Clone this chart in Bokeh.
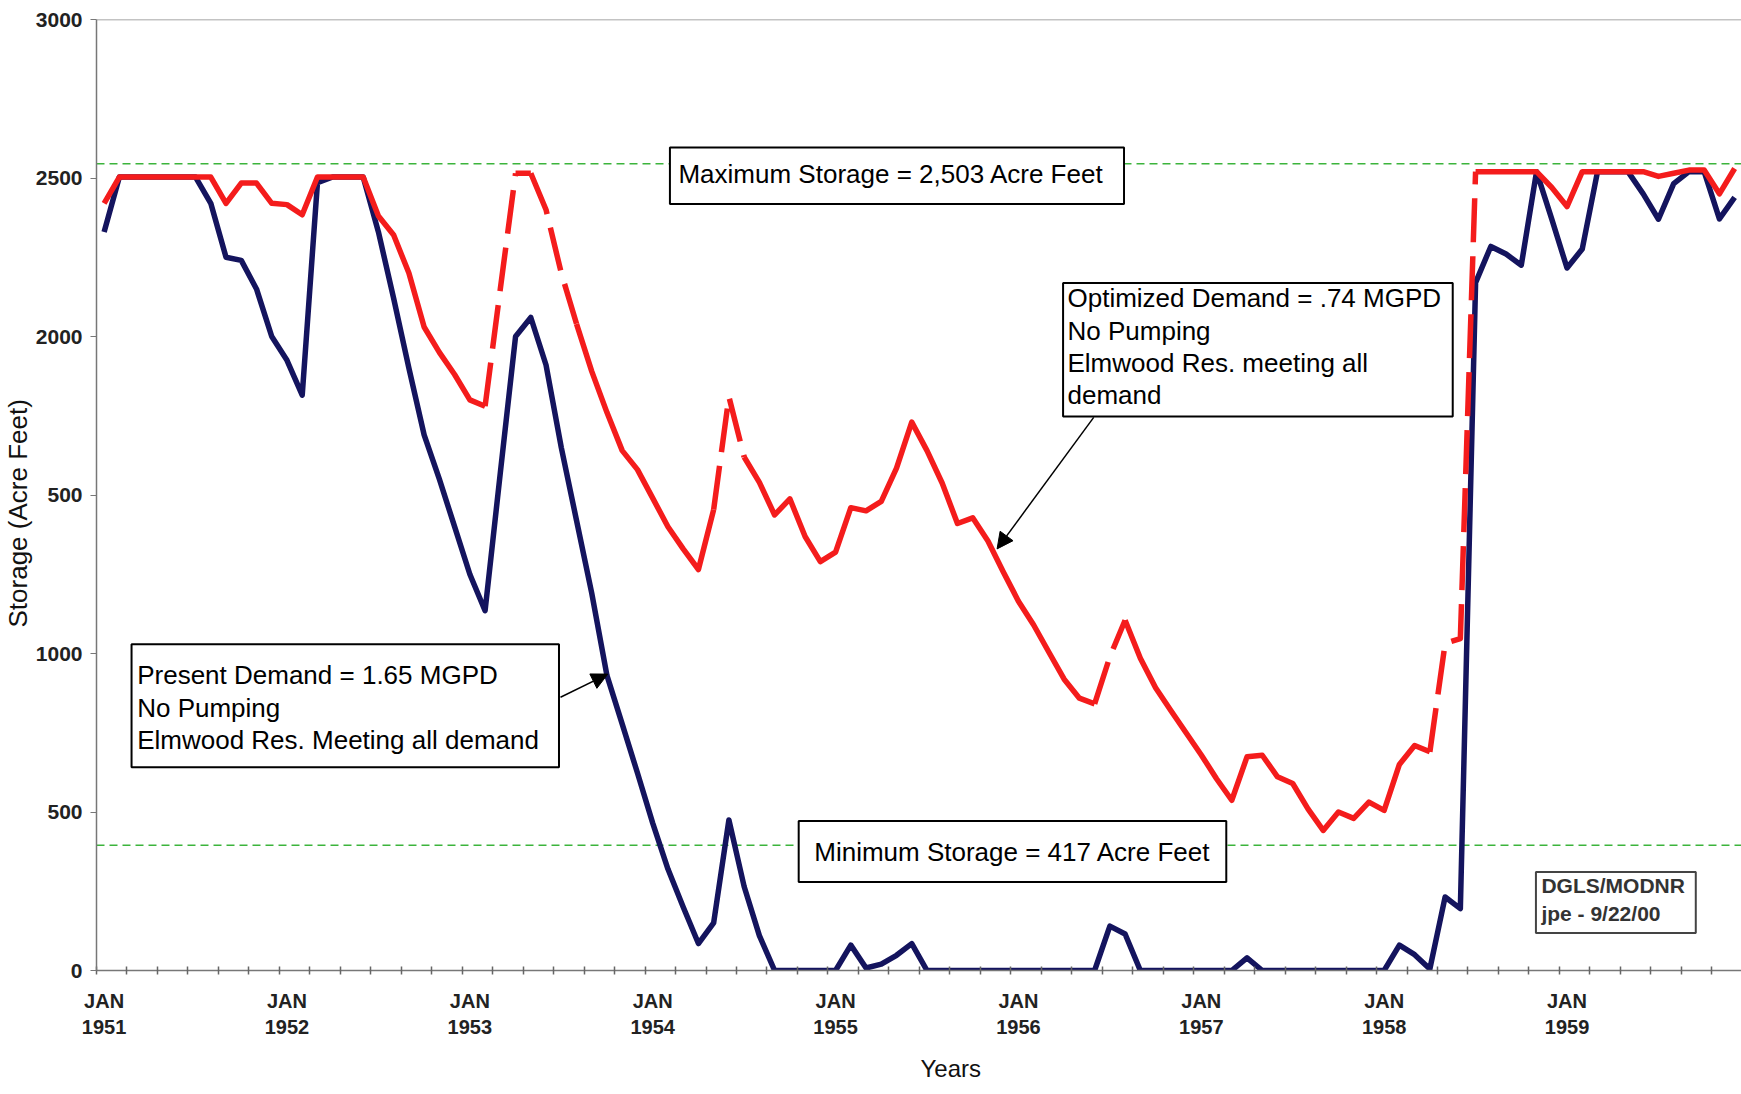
from bokeh.plotting import figure
from bokeh.models import (Range1d, FixedTicker, Span, BoxAnnotation, Label, Arrow, NormalHead,
                          Title)
from bokeh.embed import file_html
from bokeh.resources import INLINE

# ---- data (monthly, Jan 1951 .. Dec 1959) ----
months = list(range(108))

present_demand = [
    2330, 2503, 2503, 2503, 2503, 2503, 2503, 2420, 2250, 2240,
    2150, 2000, 1925, 1815, 2485, 2503, 2503, 2503, 2330, 2120,
    1900, 1690, 1550, 1400, 1250, 1135, 1570, 2000, 2060, 1910,
    1650, 1420, 1190, 930, 777, 623, 465, 320, 200, 85,
    150, 475, 265, 110, 0, 0, 0, 0, 0, 80,
    8, 20, 48, 85, 0, 0, 0, 0, 0, 0,
    0, 0, 0, 0, 0, 0, 140, 115, 0, 0,
    0, 0, 0, 0, 0, 40, 0, 0, 0, 0,
    0, 0, 0, 0, 0, 80, 50, 5, 232, 195,
    2170, 2284, 2260, 2225, 2520, 2370, 2216, 2276, 2520, 2520,
    2520, 2450, 2370, 2482, 2520, 2520, 2371, 2439,
]

optimized_demand = [
    2420, 2503, 2503, 2503, 2503, 2503, 2503, 2503, 2420, 2484,
    2484, 2420, 2416, 2384, 2503, 2503, 2503, 2503, 2380, 2320,
    2200, 2030, 1950, 1880, 1800, 1780, 2150, 2515, 2515, 2400,
    2200, 2040, 1890, 1760, 1640, 1580, 1490, 1400, 1330, 1265,
    1454, 1810, 1620, 1540, 1437, 1488, 1369, 1290, 1320, 1460,
    1450, 1480, 1585, 1730, 1640, 1537, 1410, 1428, 1355, 1258,
    1165, 1090, 1004, 919, 859, 841, 990, 1105, 985, 892,
    820, 750, 680, 605, 537, 674, 679, 611, 590, 510,
    442, 500, 480, 531, 505, 650, 710, 690, 1032, 1047,
    2520, 2520, 2520, 2520, 2520, 2470, 2410, 2520, 2520, 2520,
    2520, 2520, 2505, 2515, 2525, 2525, 2450, 2530,
]

# stretches of the red line that appear broken (dashed) in the scan
red_dashed_ranges = [(25, 27), (28, 31), (40, 42), (65, 67), (87, 90)]

max_storage_line = 2545
min_storage_line = 395

year_ticks = [0, 12, 24, 36, 48, 60, 72, 84, 96]
year_labels = ["JAN\n1951", "JAN\n1952", "JAN\n1953", "JAN\n1954", "JAN\n1955",
               "JAN\n1956", "JAN\n1957", "JAN\n1958", "JAN\n1959"]
minor_ticks = [-0.5 + 2 * k for k in range(55)]
y_ticks = [0, 500, 1000, 1500, 2000, 2500, 3000]
y_labels = ["0", "500", "1000", "500", "2000", "2500", "3000"]

FONT = "Liberation Sans"

p = figure(width=1741, height=1094,
           x_range=Range1d(-0.5, 107.45), y_range=Range1d(0, 3000),
           output_backend="svg", toolbar_location=None,
           min_border_left=94, min_border_right=0,
           min_border_top=19, min_border_bottom=124)
p.outline_line_color = None
p.xgrid.visible = False
p.ygrid.visible = False
p.background_fill_color = "white"
p.border_fill_color = "white"

# x axis
xa = p.xaxis[0]
xa.ticker = FixedTicker(ticks=year_ticks, minor_ticks=minor_ticks)
xa.major_label_overrides = dict(zip(year_ticks, year_labels))
xa.major_tick_line_color = None
xa.minor_tick_in = 4
xa.minor_tick_out = 4
xa.minor_tick_line_color = "#666666"
xa.minor_tick_line_width = 1.5
xa.axis_line_color = "#777777"
xa.axis_line_width = 1.5
xa.major_label_text_font = FONT
xa.major_label_text_font_style = "bold"
xa.major_label_text_font_size = "20px"
xa.major_label_text_color = "#222222"
xa.major_label_standoff = 13

# y axis
ya = p.yaxis[0]
ya.ticker = FixedTicker(ticks=y_ticks)
ya.major_label_overrides = dict(zip(y_ticks, y_labels))
ya.major_tick_in = 0
ya.major_tick_out = 6
ya.major_tick_line_color = "#777777"
ya.minor_tick_line_color = None
ya.axis_line_color = "#777777"
ya.axis_line_width = 1.5
ya.major_label_text_font = FONT
ya.major_label_text_font_style = "bold"
ya.major_label_text_font_size = "21px"
ya.major_label_text_color = "#222222"
ya.major_label_standoff = 8

# axis titles (slightly off-centre, as in the scan)
p.add_layout(Title(text="Years", align="left", offset=824, standoff=24,
                   text_font=FONT, text_font_size="24px", text_font_style="normal",
                   text_color="#111111"), "below")
p.add_layout(Title(text="Storage (Acre Feet)", align="left", offset=343, standoff=0,
                   text_font=FONT, text_font_size="26px", text_font_style="normal",
                   text_color="#111111"), "left")

# reference lines
p.add_layout(Span(location=3000, dimension="width", line_color="#888888", line_width=1.5))
p.add_layout(Span(location=max_storage_line, dimension="width", line_color="#3cb43c",
                  line_width=1.5, line_dash="8 5", level="underlay"))
p.add_layout(Span(location=min_storage_line, dimension="width", line_color="#3cb43c",
                  line_width=1.5, line_dash="8 5", level="underlay"))

# present demand (blue)
p.line(months, present_demand, line_color="#14145e", line_width=5.5, line_join="round")

# optimized demand (red): solid pieces + dashed pieces
RED = "#f41c1c"
cuts = [0]
for a, b in red_dashed_ranges:
    cuts += [a, b]
cuts.append(len(months) - 1)
for k in range(0, len(cuts) - 1, 2):
    a, b = cuts[k], cuts[k + 1]
    p.line(months[a:b + 1], optimized_demand[a:b + 1], line_color=RED, line_width=5.5,
           line_join="round")
for a, b in red_dashed_ranges:
    p.line(months[a:b + 1], optimized_demand[a:b + 1], line_color=RED, line_width=5.5,
           line_dash="44 14", line_join="round")

# annotation boxes
def box(l, r, t, b, color="black", w=2):
    p.add_layout(BoxAnnotation(left=l, right=r, top=t, bottom=b, fill_color="white",
                               fill_alpha=1.0, line_color=color, line_alpha=1.0,
                               line_width=w))

def label(x, y, text, size="26px", style="normal", color="black"):
    p.add_layout(Label(x=x, y=y, text=text, text_font=FONT, text_font_size=size,
                       text_font_style=style, text_color=color,
                       text_baseline="middle", text_align="left"))

box(37.13, 66.93, 2596, 2418)
label(37.69, 2512, "Maximum Storage = 2,503 Acre Feet")

box(62.93, 88.50, 2169, 1748)
label(63.22, 2120, "Optimized Demand = .74 MGPD")
label(63.22, 2018, "No Pumping")
label(63.22, 1916, "Elmwood Res. meeting all")
label(63.22, 1815, "demand")

box(1.80, 29.85, 1029, 641)
label(2.17, 931, "Present Demand = 1.65 MGPD")
label(2.17, 829, "No Pumping")
label(2.17, 728, "Elmwood Res. Meeting all demand")

box(45.58, 73.64, 472, 279)
label(46.60, 374, "Minimum Storage = 417 Acre Feet")

box(93.96, 104.45, 311, 118, color="#444444", w=2)
label(94.32, 268, "DGLS/MODNR", size="21px", style="bold", color="#333333")
label(94.32, 181, "jpe - 9/22/00", size="21px", style="bold", color="#333333")

# arrows
p.add_layout(Arrow(end=NormalHead(size=16, fill_color="black", line_color="black"),
                   x_start=64.94, y_start=1745, x_end=58.6, y_end=1330,
                   line_color="black", line_width=1.5))
p.add_layout(Arrow(end=NormalHead(size=16, fill_color="black", line_color="black"),
                   x_start=29.95, y_start=862, x_end=33.05, y_end=935,
                   line_color="black", line_width=1.5))

open("out.html", "w").write(file_html(p, INLINE))
